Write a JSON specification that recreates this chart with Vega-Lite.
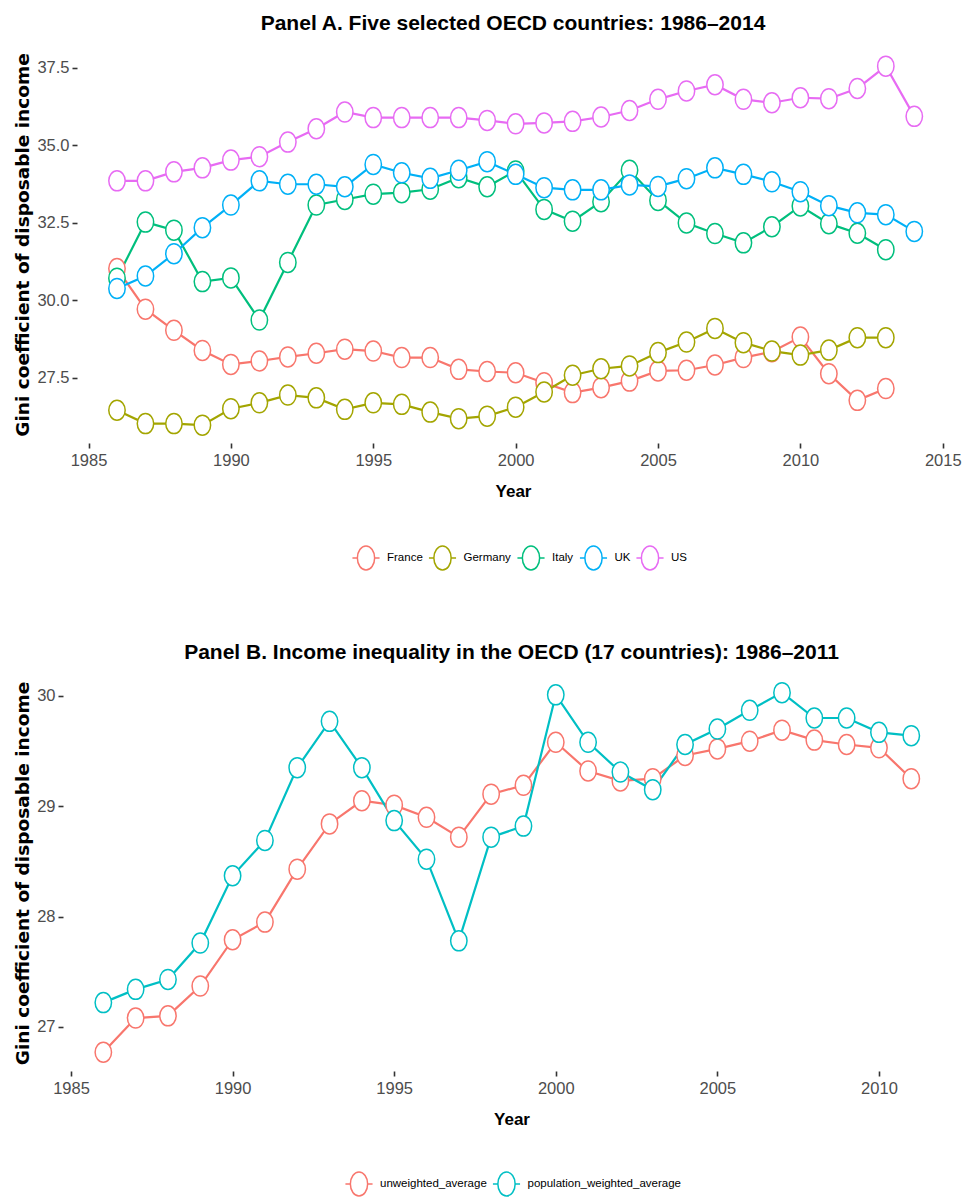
{
  "$schema": "https://vega.github.io/schema/vega-lite/v6.json",
  "background": "white",
  "padding": {"left": 13, "top": 13, "right": 4, "bottom": 6},
  "spacing": 69,
  "columns": 1,
  "align": "none",
  "datasets": {
    "a": [
      {"year":1986,"country":"France","gini":31.02},{"year":1987,"country":"France","gini":29.71},{"year":1988,"country":"France","gini":29.03},{"year":1989,"country":"France","gini":28.38},{"year":1990,"country":"France","gini":27.93},{"year":1991,"country":"France","gini":28.04},{"year":1992,"country":"France","gini":28.17},{"year":1993,"country":"France","gini":28.29},{"year":1994,"country":"France","gini":28.42},{"year":1995,"country":"France","gini":28.36},{"year":1996,"country":"France","gini":28.15},{"year":1997,"country":"France","gini":28.15},{"year":1998,"country":"France","gini":27.77},{"year":1999,"country":"France","gini":27.7},{"year":2000,"country":"France","gini":27.66},{"year":2001,"country":"France","gini":27.34},{"year":2002,"country":"France","gini":27.02},{"year":2003,"country":"France","gini":27.18},{"year":2004,"country":"France","gini":27.39},{"year":2005,"country":"France","gini":27.72},{"year":2006,"country":"France","gini":27.74},{"year":2007,"country":"France","gini":27.91},{"year":2008,"country":"France","gini":28.15},{"year":2009,"country":"France","gini":28.34},{"year":2010,"country":"France","gini":28.81},{"year":2011,"country":"France","gini":27.63},{"year":2012,"country":"France","gini":26.77},{"year":2013,"country":"France","gini":27.15},
      {"year":1986,"country":"Germany","gini":26.45},{"year":1987,"country":"Germany","gini":26.02},{"year":1988,"country":"Germany","gini":26.02},{"year":1989,"country":"Germany","gini":25.97},{"year":1990,"country":"Germany","gini":26.5},{"year":1991,"country":"Germany","gini":26.69},{"year":1992,"country":"Germany","gini":26.94},{"year":1993,"country":"Germany","gini":26.85},{"year":1994,"country":"Germany","gini":26.48},{"year":1995,"country":"Germany","gini":26.69},{"year":1996,"country":"Germany","gini":26.64},{"year":1997,"country":"Germany","gini":26.39},{"year":1998,"country":"Germany","gini":26.18},{"year":1999,"country":"Germany","gini":26.26},{"year":2000,"country":"Germany","gini":26.55},{"year":2001,"country":"Germany","gini":27.04},{"year":2002,"country":"Germany","gini":27.58},{"year":2003,"country":"Germany","gini":27.79},{"year":2004,"country":"Germany","gini":27.88},{"year":2005,"country":"Germany","gini":28.31},{"year":2006,"country":"Germany","gini":28.65},{"year":2007,"country":"Germany","gini":29.09},{"year":2008,"country":"Germany","gini":28.63},{"year":2009,"country":"Germany","gini":28.36},{"year":2010,"country":"Germany","gini":28.23},{"year":2011,"country":"Germany","gini":28.39},{"year":2012,"country":"Germany","gini":28.79},{"year":2013,"country":"Germany","gini":28.79},
      {"year":1986,"country":"Italy","gini":30.71},{"year":1987,"country":"Italy","gini":32.52},{"year":1988,"country":"Italy","gini":32.26},{"year":1989,"country":"Italy","gini":30.6},{"year":1990,"country":"Italy","gini":30.72},{"year":1991,"country":"Italy","gini":29.36},{"year":1992,"country":"Italy","gini":31.22},{"year":1993,"country":"Italy","gini":33.07},{"year":1994,"country":"Italy","gini":33.25},{"year":1995,"country":"Italy","gini":33.42},{"year":1996,"country":"Italy","gini":33.47},{"year":1997,"country":"Italy","gini":33.58},{"year":1998,"country":"Italy","gini":33.95},{"year":1999,"country":"Italy","gini":33.66},{"year":2000,"country":"Italy","gini":34.17},{"year":2001,"country":"Italy","gini":32.93},{"year":2002,"country":"Italy","gini":32.55},{"year":2003,"country":"Italy","gini":33.18},{"year":2004,"country":"Italy","gini":34.19},{"year":2005,"country":"Italy","gini":33.22},{"year":2006,"country":"Italy","gini":32.49},{"year":2007,"country":"Italy","gini":32.15},{"year":2008,"country":"Italy","gini":31.85},{"year":2009,"country":"Italy","gini":32.37},{"year":2010,"country":"Italy","gini":33.04},{"year":2011,"country":"Italy","gini":32.47},{"year":2012,"country":"Italy","gini":32.16},{"year":2013,"country":"Italy","gini":31.63},
      {"year":1986,"country":"UK","gini":30.38},{"year":1987,"country":"UK","gini":30.78},{"year":1988,"country":"UK","gini":31.5},{"year":1989,"country":"UK","gini":32.34},{"year":1990,"country":"UK","gini":33.07},{"year":1991,"country":"UK","gini":33.85},{"year":1992,"country":"UK","gini":33.74},{"year":1993,"country":"UK","gini":33.74},{"year":1994,"country":"UK","gini":33.66},{"year":1995,"country":"UK","gini":34.38},{"year":1996,"country":"UK","gini":34.11},{"year":1997,"country":"UK","gini":33.93},{"year":1998,"country":"UK","gini":34.19},{"year":1999,"country":"UK","gini":34.47},{"year":2000,"country":"UK","gini":34.06},{"year":2001,"country":"UK","gini":33.63},{"year":2002,"country":"UK","gini":33.56},{"year":2003,"country":"UK","gini":33.56},{"year":2004,"country":"UK","gini":33.72},{"year":2005,"country":"UK","gini":33.67},{"year":2006,"country":"UK","gini":33.92},{"year":2007,"country":"UK","gini":34.27},{"year":2008,"country":"UK","gini":34.06},{"year":2009,"country":"UK","gini":33.82},{"year":2010,"country":"UK","gini":33.5},{"year":2011,"country":"UK","gini":33.05},{"year":2012,"country":"UK","gini":32.82},{"year":2013,"country":"UK","gini":32.76},{"year":2014,"country":"UK","gini":32.22},
      {"year":1986,"country":"US","gini":33.85},{"year":1987,"country":"US","gini":33.85},{"year":1988,"country":"US","gini":34.14},{"year":1989,"country":"US","gini":34.27},{"year":1990,"country":"US","gini":34.52},{"year":1991,"country":"US","gini":34.63},{"year":1992,"country":"US","gini":35.1},{"year":1993,"country":"US","gini":35.53},{"year":1994,"country":"US","gini":36.07},{"year":1995,"country":"US","gini":35.89},{"year":1996,"country":"US","gini":35.89},{"year":1997,"country":"US","gini":35.89},{"year":1998,"country":"US","gini":35.89},{"year":1999,"country":"US","gini":35.8},{"year":2000,"country":"US","gini":35.69},{"year":2001,"country":"US","gini":35.72},{"year":2002,"country":"US","gini":35.77},{"year":2003,"country":"US","gini":35.91},{"year":2004,"country":"US","gini":36.12},{"year":2005,"country":"US","gini":36.48},{"year":2006,"country":"US","gini":36.75},{"year":2007,"country":"US","gini":36.95},{"year":2008,"country":"US","gini":36.48},{"year":2009,"country":"US","gini":36.37},{"year":2010,"country":"US","gini":36.53},{"year":2011,"country":"US","gini":36.5},{"year":2012,"country":"US","gini":36.83},{"year":2013,"country":"US","gini":37.55},{"year":2014,"country":"US","gini":35.93}
    ],
    "b": [
      {"year":1986,"series":"unweighted_average","gini":26.77},{"year":1987,"series":"unweighted_average","gini":27.08},{"year":1988,"series":"unweighted_average","gini":27.1},{"year":1989,"series":"unweighted_average","gini":27.37},{"year":1990,"series":"unweighted_average","gini":27.79},{"year":1991,"series":"unweighted_average","gini":27.95},{"year":1992,"series":"unweighted_average","gini":28.43},{"year":1993,"series":"unweighted_average","gini":28.84},{"year":1994,"series":"unweighted_average","gini":29.05},{"year":1995,"series":"unweighted_average","gini":29.01},{"year":1996,"series":"unweighted_average","gini":28.9},{"year":1997,"series":"unweighted_average","gini":28.72},{"year":1998,"series":"unweighted_average","gini":29.11},{"year":1999,"series":"unweighted_average","gini":29.19},{"year":2000,"series":"unweighted_average","gini":29.58},{"year":2001,"series":"unweighted_average","gini":29.32},{"year":2002,"series":"unweighted_average","gini":29.23},{"year":2003,"series":"unweighted_average","gini":29.25},{"year":2004,"series":"unweighted_average","gini":29.46},{"year":2005,"series":"unweighted_average","gini":29.52},{"year":2006,"series":"unweighted_average","gini":29.59},{"year":2007,"series":"unweighted_average","gini":29.69},{"year":2008,"series":"unweighted_average","gini":29.6},{"year":2009,"series":"unweighted_average","gini":29.56},{"year":2010,"series":"unweighted_average","gini":29.53},{"year":2011,"series":"unweighted_average","gini":29.25},
      {"year":1986,"series":"population_weighted_average","gini":27.22},{"year":1987,"series":"population_weighted_average","gini":27.34},{"year":1988,"series":"population_weighted_average","gini":27.43},{"year":1989,"series":"population_weighted_average","gini":27.76},{"year":1990,"series":"population_weighted_average","gini":28.37},{"year":1991,"series":"population_weighted_average","gini":28.69},{"year":1992,"series":"population_weighted_average","gini":29.35},{"year":1993,"series":"population_weighted_average","gini":29.77},{"year":1994,"series":"population_weighted_average","gini":29.35},{"year":1995,"series":"population_weighted_average","gini":28.87},{"year":1996,"series":"population_weighted_average","gini":28.52},{"year":1997,"series":"population_weighted_average","gini":27.78},{"year":1998,"series":"population_weighted_average","gini":28.72},{"year":1999,"series":"population_weighted_average","gini":28.82},{"year":2000,"series":"population_weighted_average","gini":30.01},{"year":2001,"series":"population_weighted_average","gini":29.58},{"year":2002,"series":"population_weighted_average","gini":29.31},{"year":2003,"series":"population_weighted_average","gini":29.15},{"year":2004,"series":"population_weighted_average","gini":29.56},{"year":2005,"series":"population_weighted_average","gini":29.7},{"year":2006,"series":"population_weighted_average","gini":29.87},{"year":2007,"series":"population_weighted_average","gini":30.03},{"year":2008,"series":"population_weighted_average","gini":29.8},{"year":2009,"series":"population_weighted_average","gini":29.8},{"year":2010,"series":"population_weighted_average","gini":29.67},{"year":2011,"series":"population_weighted_average","gini":29.64}
    ]
  },
  "concat": [
    {
      "title": {"text": "Panel A. Five selected OECD countries: 1986\u20132014"},
      "width": 884,
      "height": 397,
      "data": {"name": "a"},
      "encoding": {
        "x": {"field": "year", "type": "quantitative", "title": "Year",
              "scale": {"domain": [1984.385, 2015.43], "nice": false, "zero": false},
              "axis": {"values": [1985, 1990, 1995, 2000, 2005, 2010, 2015], "format": "d"}},
        "y": {"field": "gini", "type": "quantitative", "title": "Gini coefficient of disposable income",
              "scale": {"domain": [25.394, 38.2], "nice": false, "zero": false},
              "axis": {"values": [27.5, 30, 32.5, 35, 37.5], "format": ".1f", "offset": -6}},
        "stroke": {"field": "country", "type": "nominal",
                   "scale": {"domain": ["France", "Germany", "Italy", "UK", "US"], "range": ["#F8766D", "#A3A500", "#00BF7D", "#00B0F6", "#E76BF3"]},
                   "legend": {"title": null, "orient": "none", "legendX": 282, "legendY": 499}}
      },
      "layer": [
        {"mark": {"type": "line", "strokeWidth": 2.2}},
        {"mark": {"type": "point", "filled": true, "fill": "white", "opacity": 1, "strokeWidth": 1.5, "size": 400,
                  "shape": "M 0 -1 A 0.82 1 0 1 1 0 1 A 0.82 1 0 1 1 0 -1 Z"}}
      ]
    },
    {
      "title": {"text": "Panel B. Income inequality in the OECD (17 countries): 1986\u20132011"},
      "width": 881,
      "height": 396,
      "data": {"name": "b"},
      "encoding": {
        "x": {"field": "year", "type": "quantitative", "title": "Year",
              "scale": {"domain": [1985, 2012.26], "nice": false, "zero": false},
              "axis": {"values": [1985, 1990, 1995, 2000, 2005, 2010], "format": "d"}},
        "y": {"field": "gini", "type": "quantitative", "title": "Gini coefficient of disposable income",
              "scale": {"domain": [26.6, 30.19], "nice": false, "zero": false},
              "axis": {"values": [27, 28, 29, 30], "format": "d", "offset": 8}},
        "stroke": {"field": "series", "type": "nominal",
                   "scale": {"domain": ["unweighted_average", "population_weighted_average"], "range": ["#F8766D", "#00BFC4"]},
                   "legend": {"title": null, "orient": "none", "legendX": 275, "legendY": 496}}
      },
      "layer": [
        {"mark": {"type": "line", "strokeWidth": 2.2}},
        {"mark": {"type": "point", "filled": true, "fill": "white", "opacity": 1, "strokeWidth": 1.5, "size": 400,
                  "shape": "M 0 -1 A 0.82 1 0 1 1 0 1 A 0.82 1 0 1 1 0 -1 Z"}}
      ]
    }
  ],
  "resolve": {"scale": {"stroke": "independent", "x": "independent", "y": "independent"}, "legend": {"stroke": "independent"}},
  "config": {
    "view": {"stroke": null},
    "font": "Liberation Sans",
    "axis": {"grid": false, "domain": false, "tickColor": "#333333", "tickSize": 5, "tickWidth": 1.6,
             "labelFont": "Liberation Sans", "labelFontSize": 16.5, "labelColor": "#4D4D4D",
             "titleFontWeight": "bold", "titleColor": "black", "labelFlush": false},
    "axisX": {"titleFont": "Liberation Sans", "titleFontSize": 17, "labelPadding": 4, "titlePadding": 15},
    "axisY": {"titleFont": "DejaVu Sans", "titleFontSize": 18.5, "labelPadding": 3, "titlePadding": 4},
    "title": {"font": "Liberation Sans", "fontSize": 21, "fontWeight": "bold", "color": "black", "anchor": "middle", "offset": 11.7},
    "legend": {"direction": "horizontal", "labelFont": "Liberation Sans", "labelFontSize": 11.5, "labelLimit": 400,
               "labelColor": "black", "symbolType": "M -1.13 0 L -0.72 0 M 0.72 0 L 1.13 0 M 0 -1 A 0.72 1 0 1 1 0 1 A 0.72 1 0 1 1 0 -1 Z",
               "symbolSize": 576, "symbolStrokeWidth": 1.5, "symbolFillColor": "white", "columnPadding": 2.5, "labelOffset": 8}
  }
}
